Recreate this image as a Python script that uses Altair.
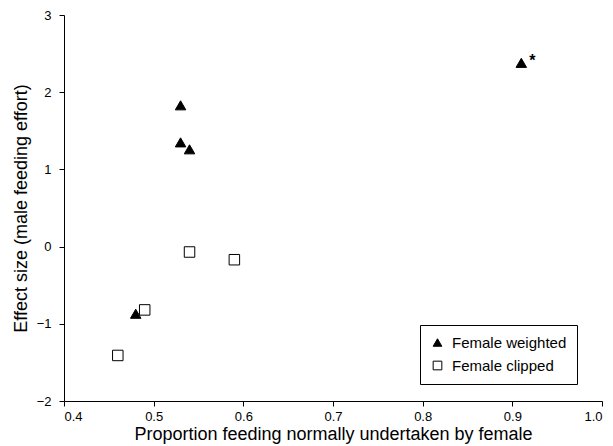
import altair as alt
import pandas as pd

groups = ["Female weighted"] * 5 + ["Female clipped"] * 4
x_vals = [0.53, 0.53, 0.54, 0.48, 0.91, 0.54, 0.59, 0.49, 0.46]
y_vals = [1.83, 1.35, 1.26, -0.87, 2.38, -0.07, -0.17, -0.82, -1.41]

note_x = [0.91]
note_y = [2.38]
note_text = ["*"]

df = pd.DataFrame({"group": groups, "x": x_vals, "y": y_vals})
notes = pd.DataFrame({"x": note_x, "y": note_y, "t": note_text})

FONT = "Liberation Sans"
order = ["Female weighted", "Female clipped"]

xs = alt.Scale(domain=[0.4, 1.0], nice=False, zero=False)
ys = alt.Scale(domain=[-2, 3], nice=False, zero=False)


def leg():
    return alt.Legend(title=None, orient="none", legendX=356, legendY=310,
                      strokeColor="black", padding=10, symbolSize=75,
                      symbolStrokeWidth=1, labelOffset=7,
                      labelFontSize=15, labelFont=FONT, rowPadding=7,
                      labelColor="black", offset=0)


points = alt.Chart(df).mark_point(filled=True, strokeWidth=1, size=110, opacity=1).encode(
    x=alt.X("x:Q", scale=xs, axis=alt.Axis(values=[0.4, 0.5, 0.6, 0.7, 0.8, 0.9, 1.0], format=".1f",
                                           title="Proportion feeding normally undertaken by female")),
    y=alt.Y("y:Q", scale=ys, axis=alt.Axis(values=[-2, -1, 0, 1, 2, 3], format="d", labelPadding=8,
                                           title="Effect size (male feeding effort)")),
    shape=alt.Shape("group:N", scale=alt.Scale(domain=order, range=["triangle-up", "square"]), legend=leg()),
    fill=alt.Fill("group:N", scale=alt.Scale(domain=order, range=["black", "white"]), legend=leg()),
    stroke=alt.Stroke("group:N", scale=alt.Scale(domain=order, range=["black", "black"]), legend=leg()),
)

stars = alt.Chart(notes).mark_text(dx=11, dy=-2, fontSize=16, fontWeight="bold", font=FONT, color="black").encode(
    x=alt.X("x:Q", scale=xs), y=alt.Y("y:Q", scale=ys), text="t:N"
)

chart = (points + stars).properties(
    width=538, height=386,
    autosize=alt.AutoSizeParams(type="none"),
    padding={"left": 56, "top": 7, "right": 3, "bottom": 50},
).configure_view(stroke=None).configure_axis(
    grid=False, domainColor="black", tickColor="black", labelColor="black", titleColor="black",
    labelFont=FONT, titleFont=FONT, labelFontSize=13, titleFontSize=18, titleFontWeight="normal",
    tickSize=5, labelPadding=4, domainWidth=1, tickWidth=1,
).configure_axisX(titlePadding=2).configure_axisY(titlePadding=6)

chart.save("out.html", embed_options={"renderer": "svg", "actions": False})
